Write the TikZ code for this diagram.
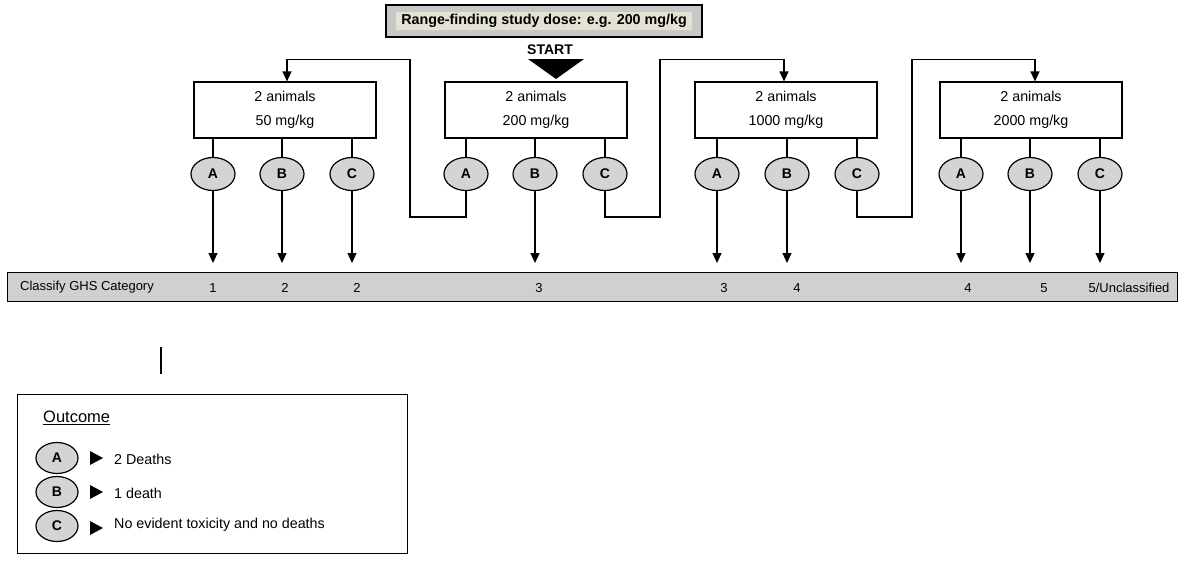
\documentclass[tikz,border=0pt]{standalone}
\usepackage{fontspec}
\setmainfont{Liberation Sans}
\usetikzlibrary{arrows.meta,shapes.geometric}
\definecolor{rgray}{RGB}{200,200,200}
\definecolor{rbeige}{RGB}{228,226,210}
\definecolor{ogray}{RGB}{212,212,212}
\definecolor{bargray}{RGB}{208,208,208}
\begin{document}
\begin{tikzpicture}[x=1pt,y=-1pt,
  ln/.style={line width=1.2pt},
  arr/.style={ln,-{Triangle[length=10pt,width=9pt]}},
  dosebox/.style={draw,ln,fill=white,minimum width=182pt,minimum height=56pt,inner sep=0pt,align=center,font=\fontsize{14.3}{24}\selectfont},
  oc/.style={draw,ln,ellipse,fill=ogray,minimum width=44pt,minimum height=33pt,inner sep=0pt,font=\bfseries\fontsize{14}{16}\selectfont},
  loc/.style={oc,minimum width=42pt,minimum height=31pt},
  catlab/.style={font=\fontsize{13}{15}\selectfont,inner sep=0pt},
  legtxt/.style={font=\fontsize{14.3}{16}\selectfont,inner sep=0pt,anchor=west}]
\useasboundingbox (0,0) rectangle (1200,576);

% range-finding box
\node[draw,ln,fill=rgray,minimum width=316pt,minimum height=32pt,inner sep=0pt] (range) at (544,21) {};
\node[fill=rbeige,minimum width=296pt,minimum height=18pt,inner sep=0pt,font=\bfseries\fontsize{14.3}{16}\selectfont] (rangetxt) at (range.center) {Range-finding study dose: e.g. 200 mg/kg};

% start
\node[font=\bfseries\fontsize{14}{16}\selectfont,inner sep=0pt] (start) at (550,50) {START};
\fill (528,59) -- (584,59) -- (556,79) -- cycle;

% dose boxes
\node[dosebox] (d1) at (285,110) {2 animals\\50 mg/kg};
\node[dosebox] (d2) at (536,110) {2 animals\\200 mg/kg};
\node[dosebox] (d3) at (786,110) {2 animals\\1000 mg/kg};
\node[dosebox] (d4) at (1031,110) {2 animals\\2000 mg/kg};

% outcome ellipses
\foreach \n/\xa/\xb/\xc in {1/213/282/352, 2/466/535/605, 3/717/787/857, 4/961/1030/1100}{
  \node[oc] (a\n) at (\xa,174) {A};
  \node[oc] (b\n) at (\xb,174) {B};
  \node[oc] (c\n) at (\xc,174) {C};
  \draw[ln] (d\n.south -| a\n) -- (a\n.north);
  \draw[ln] (d\n.south -| b\n) -- (b\n.north);
  \draw[ln] (d\n.south -| c\n) -- (c\n.north);
}

% category bar
\node[draw,ln,fill=bargray,minimum width=1170pt,minimum height=29pt,inner sep=0pt,anchor=north west] (bar) at (7,272) {};
\node[catlab,anchor=west] (cls) at (20,287) {Classify GHS Category};

% arrows to bar
\foreach \e in {a1,b1,c1,b2,a3,b3,a4,b4,c4}{
  \draw[arr] (\e.south) -- ([yshift=9pt]bar.north -| \e);
}

% category numbers
\node[catlab] (k1) at (213,288) {1};
\node[catlab] (k2) at (285,288) {2};
\node[catlab] (k3) at (357,288) {2};
\node[catlab] (k4) at (539,288) {3};
\node[catlab] (k5) at (724,288) {3};
\node[catlab] (k6) at (797,288) {4};
\node[catlab] (k7) at (968,288) {4};
\node[catlab] (k8) at (1044,288) {5};
\node[catlab] (k9) at (1129,288) {5/Unclassified};

% step connectors
\draw[arr] (a2.south) |- (410,217) |- ([xshift=2pt,yshift=22pt]d1.north) -- ([xshift=2pt]d1.north);
\draw[arr] (c2.south) |- (660,217) |- ([xshift=-2pt,yshift=22pt]d3.north) -- ([xshift=-2pt]d3.north);
\draw[arr] (c3.south) |- (912,217) |- ([xshift=4pt,yshift=22pt]d4.north) -- ([xshift=4pt]d4.north);

% stray mark
\draw[ln] (161,347) -- (161,374);

% legend
\node[draw,ln,minimum width=390pt,minimum height=159pt,inner sep=0pt,anchor=north west] (legend) at (17,394) {};
\node[font=\fontsize{16.5}{18}\selectfont,inner sep=0pt,anchor=west] (outc) at (43,418) {\underline{Outcome}};
\node[loc] (la) at (57,458) {A};
\node[loc] (lb) at (57,492) {B};
\node[loc] (lc) at (57,526) {C};
\fill (90,451) -- (103,458) -- (90,465) -- cycle;
\fill (90,485) -- (103,492) -- (90,499) -- cycle;
\fill (90,521) -- (103,528) -- (90,535) -- cycle;
\node[legtxt] (ta) at (114,459) {2 Deaths};
\node[legtxt] (tb) at (114,493) {1 death};
\node[legtxt] (tc) at (114,525) {No evident toxicity and no deaths};
\end{tikzpicture}
\end{document}
